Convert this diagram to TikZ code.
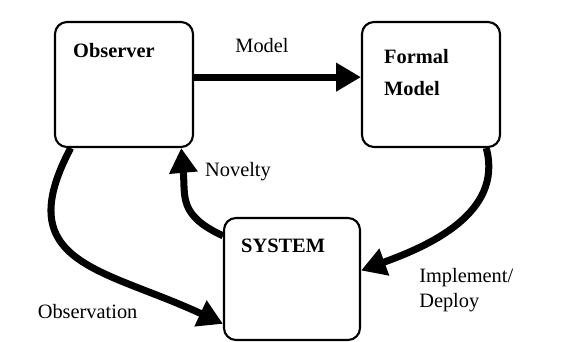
\documentclass[tikz,border=0pt]{standalone}
\usepackage{fontspec}
\setmainfont{Liberation Serif}
\usetikzlibrary{arrows.meta,positioning}
\begin{document}
\begin{tikzpicture}[boxStyle/.style={draw, rounded corners=0.3cm, line width=1.5pt, minimum width=3.45cm, minimum height=3.125cm},
                    titleStyle/.style={inner sep=0pt, align=left, font=\fontsize{14.5}{23}\selectfont\bfseries},
                    labelStyle/.style={inner sep=0pt, align=left, font=\fontsize{14.5}{18}\selectfont},
                    arrowStyle/.style={line width=5pt, -{Triangle[length=0.62cm, width=0.68cm]}}]
                    \useasboundingbox (0, 0) rectangle (14.45, 8.55);
                    \node[boxStyle](observer) at (3.1, 6.4375) {};
                    \node[boxStyle](formal) at (10.775, 6.4375) {};
                    \node[boxStyle, minimum width=3.4cm, minimum height=3.05cm](system) at (7.3, 1.575) {};

                    \node[titleStyle, below right=0.55cm and 0.475cm of observer.north west](observerText) {Observer};
                    \node[titleStyle, below right=0.7cm and 0.575cm of formal.north west](formalText) {Formal\\Model};
                    \node[titleStyle, below right=0.55cm and 0.45cm of system.north west](systemText) {SYSTEM};

                    \node[labelStyle](modelText) at (6.55, 7.4) {Model};
                    \node[labelStyle](noveltyText) at (5.95, 4.25) {Novelty};
                    \node[labelStyle, anchor=north west](deployText) at (10.475, 1.85) {Implement/\\Deploy};
                    \node[labelStyle](observationText) at (2.19, 0.75) {Observation};

                    \draw[arrowStyle] (observer.6) -- (formal.174);
                    \draw[arrowStyle] (system.148) to[out=155, in=-85, looseness=1.3] (observer.-48);
                    \draw[arrowStyle] (observer.-130) to[out=-118, in=155, looseness=1.45] (system.213);
                    \draw[arrowStyle] (formal.-49) to[out=-75, in=20] (system.7);
                \end{tikzpicture}
\end{document}
